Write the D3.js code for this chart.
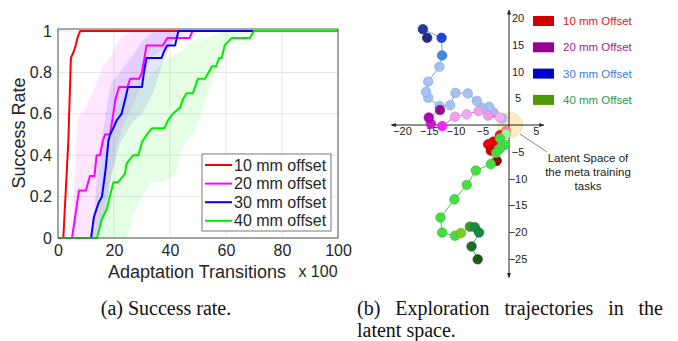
<!DOCTYPE html>
<html>
<head>
<meta charset="utf-8">
<script src="https://cdn.jsdelivr.net/npm/d3@7"></script>
<style>
  body { margin: 0; background: #fff; }
  svg { display: block; }
</style>
</head>
<body>
<div id="fig"></div>
<script>
// ---- (a) success rate curves ----
const xTicksA = [0, 20, 40, 60, 80, 100];
const yTicksA = [0, 0.2, 0.4, 0.6, 0.8, 1];
const legendLabelsA = ['10 mm offset', '20 mm offset', '30 mm offset', '40 mm offset'];

const red10X = [0, 1.9, 3.7, 4.6, 5.6, 6.3, 7.0, 7.9, 100];
const red10Y = [0, 0, 0.47, 0.87, 0.9, 0.93, 0.97, 1, 1];

const mag20X = [0, 5, 7.5, 10, 11.4, 13, 13.8, 15, 16, 16.8, 18.6, 20.5, 21.8, 24.8, 25.8, 29, 30, 31.6, 37.5, 39, 47, 48, 100];
const mag20Y = [0, 0, 0.23, 0.23, 0.3, 0.3, 0.4, 0.4, 0.47, 0.5, 0.5, 0.67, 0.73, 0.73, 0.77, 0.77, 0.8, 0.93, 0.93, 0.967, 0.967, 1, 1];

const blue30X = [0, 11.8, 12.8, 14.5, 15.7, 17, 18, 18.6, 19.7, 21, 22.7, 24, 25, 30, 30.7, 31.6, 37, 37.8, 39, 41.8, 43, 100];
const blue30Y = [0, 0, 0.1, 0.17, 0.2, 0.33, 0.47, 0.5, 0.53, 0.57, 0.6, 0.67, 0.73, 0.73, 0.8, 0.87, 0.87, 0.9, 0.93, 0.93, 1, 1];

const green40X = [0, 13.9, 15.6, 17.4, 19.8, 21.5, 23.9, 24.5, 26.9, 28.7, 29.9, 31.7, 33.5, 38, 39.3, 41, 43.6, 44.6, 46, 48.2, 50, 52.5, 55, 56.5, 57.5, 58.5, 59.5, 62, 68.5, 70, 100];
const green40Y = [0, 0, 0.09, 0.14, 0.27, 0.27, 0.31, 0.36, 0.4, 0.4, 0.46, 0.5, 0.53, 0.53, 0.57, 0.6, 0.63, 0.67, 0.7, 0.7, 0.77, 0.77, 0.83, 0.83, 0.87, 0.87, 0.93, 0.967, 0.967, 1, 1];

// spread bands
const mag20BandX = [5, 7, 10, 13, 16, 19, 21, 23.5, 27, 30, 33, 40, 48];
const mag20Lo    = [0, 0, 0, 0, 0.1, 0.3, 0.45, 0.55, 0.65, 0.75, 0.87, 0.93, 1];
const mag20Hi    = [0, 0.58, 0.63, 0.72, 0.83, 0.88, 0.94, 0.98, 1, 1, 1, 1, 1];

const blue30BandX = [12, 14, 17, 19, 22, 26, 30, 34, 37, 40, 44];
const blue30Lo    = [0, 0, 0.1, 0.3, 0.45, 0.55, 0.6, 0.7, 0.83, 0.93, 1];
const blue30Hi    = [0, 0.3, 0.6, 0.75, 0.8, 0.87, 0.95, 1, 1, 1, 1];

const green40BandX = [14, 16, 18, 21, 24.5, 27, 30, 33.5, 37.5, 42, 44.6, 48, 50, 54, 59, 61, 65, 71];
const green40Lo    = [0, 0, 0, 0, 0, 0.11, 0.2, 0.27, 0.27, 0.31, 0.44, 0.5, 0.56, 0.71, 0.92, 0.97, 0.98, 1];
const green40Hi    = [0, 0.35, 0.5, 0.62, 0.7, 0.73, 0.76, 0.8, 0.85, 0.89, 0.91, 0.95, 0.96, 0.97, 1, 1, 1, 1];

// ---- (b) latent space trajectories ----
const xTicksB = [-20, -15, -10, -5, 5];
const yTicksB = [20, 15, 10, 5, -5, -10, -15, -20, -25];
const legendLabelsB = ['10 mm Offset', '20 mm Offset', '30 mm Offset', '40 mm Offset'];

const trajBlueX = [-1.25, -2.9, -3.7, -5.1, -6.0, -7.7, -10.0, -11.0, -13.0, -15.1, -15.5, -15.1, -13.0, -12.5, -12.6, -16.1, -15.3];
const trajBlueY = [1.25, 2.3, 3.4, 3.2, 4.5, 5.9, 6.0, 3.7, 3.55, 5.1, 6.2, 8.1, 10.9, 13.0, 16.3, 17.9, 16.3];

const trajMagX = [-1.7, -3.9, -5.7, -7.9, -10.1, -12.5, -14.6, -15.0, -12.9];
const trajMagY = [1.4, 1.75, 2.6, 2.0, 1.55, -0.2, 0.2, 1.4, 2.8];

const trajRedX = [-0.55, -1.7, -2.9, -3.9, -3.4, -2.3];
const trajRedY = [-1.1, -1.9, -3.1, -3.6, -4.8, -6.7];

const trajGreenX = [-0.55, -1.7, -0.75, -1.7, -2.4, -3.4, -6.2, -7.9, -10.2, -12.8, -12.5, -10.1, -9.0, -7.3, -6.4, -5.6, -7.0, -5.85];
const trajGreenY = [-1.7, -2.5, -3.7, -4.4, -5.2, -7.3, -8.5, -11.2, -13.9, -17.3, -20.1, -20.7, -20.2, -19.0, -19.1, -20.1, -22.7, -25.1];

// styles
const lineColorsA = ['#ff0000', '#ff00ff', '#0000ff', '#00ee00'];
const shadesBlue = ['#a9c4eb', '#b3b6ea', '#a4c2f4', '#a4c2f4', '#a4c2f4', '#a4c2f4', '#a4c2f4', '#a4c2f4', '#a4c2f4', '#a4c2f4', '#a4c2f4', '#a4c2f4', '#a4c2f4', '#3d8ae0', '#1f44e0', '#2433a8', '#27287e'];
const shadesMag = ['#f4b0f0', '#ee9ae8', '#f0a0ec', '#f2a8f0', '#f0a0ee', '#ff22ff', '#c81ec8', '#b400b4', '#8e108e'];
const shadesRed = ['#f08a8a', '#ee1111', '#e00000', '#ee0000', '#cc0000', '#990000'];
const shadesGreen = ['#a6f0a6', '#44dd44', '#44dd44', '#44dd44', '#44dd44', '#44dd44', '#44dd44', '#44dd44', '#44dd44', '#44dd44', '#44dd44', '#44dd44', '#77cc22', '#339922', '#1e8c3c', '#16894a', '#1e6b30', '#1a5c14'];

const W = 678, H = 341;
const svg = d3.select('#fig').append('svg').attr('width', W).attr('height', H);
const sans = 'Liberation Sans, Arial, sans-serif';
const serif = 'Liberation Serif, Times New Roman, serif';

// ================= panel (a) =================
const x = d3.scaleLinear().domain([0, 100]).range([58, 338]);
const y = d3.scaleLinear().domain([0, 1.01]).range([238, 29]);

const gA = svg.append('g');

// grid
gA.append('g').selectAll('line.gx').data(xTicksA).enter().append('line')
  .attr('x1', d => x(d)).attr('x2', d => x(d)).attr('y1', y.range()[0]).attr('y2', y.range()[1])
  .attr('stroke', '#e6e6e6');
gA.append('g').selectAll('line.gy').data(yTicksA).enter().append('line')
  .attr('x1', x.range()[0]).attr('x2', x.range()[1]).attr('y1', d => y(d)).attr('y2', d => y(d))
  .attr('stroke', '#e6e6e6');

// bands
const bands = [
  { xs: mag20BandX, lo: mag20Lo, hi: mag20Hi, c: '#ff00ff' },
  { xs: blue30BandX, lo: blue30Lo, hi: blue30Hi, c: '#0000ff' },
  { xs: green40BandX, lo: green40Lo, hi: green40Hi, c: '#00ff00' },
];
const area = d3.area().x(d => x(d[0])).y0(d => y(d[1])).y1(d => y(d[2]));
bands.forEach(b => {
  gA.append('path')
    .attr('d', area(d3.zip(b.xs, b.lo, b.hi)))
    .attr('fill', b.c).attr('fill-opacity', 0.1).attr('stroke', 'none');
});

// lines
const series = [[red10X, red10Y], [mag20X, mag20Y], [blue30X, blue30Y], [green40X, green40Y]];
const line = d3.line().x(d => x(d[0])).y(d => y(d[1]));
series.forEach((s, i) => {
  gA.append('path')
    .attr('d', line(d3.zip(s[0], s[1])))
    .attr('fill', 'none').attr('stroke', lineColorsA[i]).attr('stroke-width', 2)
    .attr('stroke-linejoin', 'round');
});

// axes
const xAxis = gA.append('g').attr('transform', `translate(0,${y.range()[0]})`)
  .call(d3.axisBottom(x).tickValues(xTicksA).tickSize(0).tickPadding(7));
const yAxis = gA.append('g').attr('transform', `translate(${x.range()[0]},0)`)
  .call(d3.axisLeft(y).tickValues(yTicksA).tickFormat(d3.format('~g')).tickSize(0).tickPadding(6));
[xAxis, yAxis].forEach(a => {
  a.select('.domain').remove();
  a.selectAll('text').attr('font-family', sans).attr('font-size', 16).attr('fill', '#262626');
});

// box
gA.append('rect')
  .attr('x', x.range()[0]).attr('y', y.range()[1])
  .attr('width', x.range()[1] - x.range()[0]).attr('height', y.range()[0] - y.range()[1])
  .attr('fill', 'none').attr('stroke', '#555').attr('stroke-width', 1);

// axis labels
gA.append('text').attr('x', 197).attr('y', 278).attr('text-anchor', 'middle')
  .attr('font-family', sans).attr('font-size', 18).attr('fill', '#262626')
  .text('Adaptation Transitions');
gA.append('text').attr('x', 318).attr('y', 277).attr('text-anchor', 'middle')
  .attr('font-family', sans).attr('font-size', 16).attr('fill', '#262626')
  .text('x 100');
gA.append('text').attr('transform', 'translate(25,133) rotate(-90)').attr('text-anchor', 'middle')
  .attr('font-family', sans).attr('font-size', 18).attr('fill', '#262626')
  .text('Success Rate');

// legend
const legA = gA.append('g');
legA.append('rect').attr('x', 202).attr('y', 154).attr('width', 129).attr('height', 77)
  .attr('fill', '#fff').attr('stroke', '#777');
legendLabelsA.forEach((t, i) => {
  const cy = 165 + i * 18.6;
  legA.append('line').attr('x1', 205).attr('x2', 232).attr('y1', cy).attr('y2', cy)
    .attr('stroke', lineColorsA[i]).attr('stroke-width', 2);
  legA.append('text').attr('x', 234).attr('y', cy + 5.6)
    .attr('font-family', sans).attr('font-size', 16).attr('fill', '#262626').text(t);
});

// ================= panel (b) =================
const xs = d3.scaleLinear().domain([-22, 6.5]).range([391.3, 543.8]);
const ys = d3.scaleLinear().domain([-28.5, 21.5]).range([277.5, 10]);
const gB = svg.append('g');

const defs = svg.append('defs');
defs.append('marker').attr('id', 'arr').attr('viewBox', '0 0 10 10')
  .attr('refX', 9).attr('refY', 5).attr('markerWidth', 5).attr('markerHeight', 5)
  .attr('orient', 'auto-start-reverse')
  .append('path').attr('d', 'M0,1 L10,5 L0,9 z').attr('fill', '#222');

// latent space of training tasks
gB.append('circle').attr('cx', xs(0.2)).attr('cy', ys(0)).attr('r', 12.5)
  .attr('fill', '#fdebc6').attr('stroke', '#f6d9a4').attr('stroke-width', 0.8);

// axes lines
gB.append('line').attr('x1', xs.range()[0]).attr('x2', xs.range()[1]).attr('y1', ys(0)).attr('y2', ys(0))
  .attr('stroke', '#222').attr('stroke-width', 1)
  .attr('marker-start', 'url(#arr)').attr('marker-end', 'url(#arr)');
gB.append('line').attr('x1', xs(0)).attr('x2', xs(0)).attr('y1', ys.range()[1]).attr('y2', ys.range()[0])
  .attr('stroke', '#222').attr('stroke-width', 1)
  .attr('marker-start', 'url(#arr)').attr('marker-end', 'url(#arr)');

const axB = gB.append('g').attr('transform', `translate(0,${ys(0)})`)
  .call(d3.axisBottom(xs).tickValues(xTicksB).tickSize(0).tickPadding(2));
const ayB = gB.append('g').attr('transform', `translate(${xs(0)},0)`)
  .call(d3.axisRight(ys).tickValues(yTicksB).tickSize(0).tickPadding(9));
[axB, ayB].forEach(a => {
  a.select('.domain').remove();
  a.selectAll('text').attr('font-family', sans).attr('font-size', 11).attr('fill', '#222');
});
ayB.selectAll('text').attr('text-anchor', 'middle');

// trajectories
const trajs = [
  { px: trajBlueX, py: trajBlueY, fill: shadesBlue, ln: '#6fa8dc' },
  { px: trajMagX, py: trajMagY, fill: shadesMag, ln: '#d070d0' },
  { px: trajRedX, py: trajRedY, fill: shadesRed, ln: '#e06666' },
  { px: trajGreenX, py: trajGreenY, fill: shadesGreen, ln: '#55bb55' },
];
const lineB = d3.line().x(d => xs(d[0])).y(d => ys(d[1]));
trajs.forEach(t => {
  const pts = d3.zip(t.px, t.py);
  gB.append('path').attr('d', lineB(pts)).attr('fill', 'none')
    .attr('stroke', t.ln).attr('stroke-width', 1);
  gB.append('g').selectAll('circle').data(pts).enter().append('circle')
    .attr('cx', d => xs(d[0])).attr('cy', d => ys(d[1])).attr('r', 4.8)
    .attr('fill', (d, i) => t.fill[i])
    .attr('stroke', (d, i) => d3.color(t.fill[i]).darker(0.5))
    .attr('stroke-width', 0.6);
});

// annotation
gB.append('line').attr('x1', 547).attr('y1', 152).attr('x2', 520).attr('y2', 134)
  .attr('stroke', '#777').attr('stroke-width', 0.9);
['Latent Space of', 'the meta training', 'tasks'].forEach((t, i) => {
  gB.append('text').attr('x', 588).attr('y', 162 + i * 14).attr('text-anchor', 'middle')
    .attr('font-family', sans).attr('font-size', 11.5).attr('fill', '#222').text(t);
});

// legend (b)
const legColorsB = ['#cc0000', '#990099', '#0000cc', '#4c9900'];
const legTextB = ['#d42020', '#a020a0', '#3c7fd6', '#2a9a5a'];
legendLabelsB.forEach((t, i) => {
  const cy = 21 + i * 26.3;
  gB.append('rect').attr('x', 533).attr('y', cy - 5).attr('width', 21).attr('height', 10)
    .attr('fill', legColorsB[i]);
  gB.append('text').attr('x', 563).attr('y', cy + 4)
    .attr('font-family', sans).attr('font-size', 11.5).attr('fill', legTextB[i]).text(t);
});

// ================= captions =================
svg.append('text').attr('x', 166).attr('y', 315).attr('text-anchor', 'middle')
  .attr('font-family', serif).attr('font-size', 20).attr('fill', '#111')
  .text('(a) Success rate.');

const capWords = ['(b)', 'Exploration', 'trajectories', 'in', 'the'];
const capG = svg.append('g');
const wNodes = capWords.map(w => capG.append('text').attr('y', 315)
  .attr('font-family', serif).attr('font-size', 20).attr('fill', '#111').text(w));
const widths = wNodes.map(n => n.node().getComputedTextLength());
const gap = (663 - 357 - d3.sum(widths)) / (capWords.length - 1);
let cx = 357;
wNodes.forEach((n, i) => { n.attr('x', cx); cx += widths[i] + gap; });
svg.append('text').attr('x', 357).attr('y', 337)
  .attr('font-family', serif).attr('font-size', 20).attr('fill', '#111')
  .text('latent space.');
</script>
</body>
</html>
